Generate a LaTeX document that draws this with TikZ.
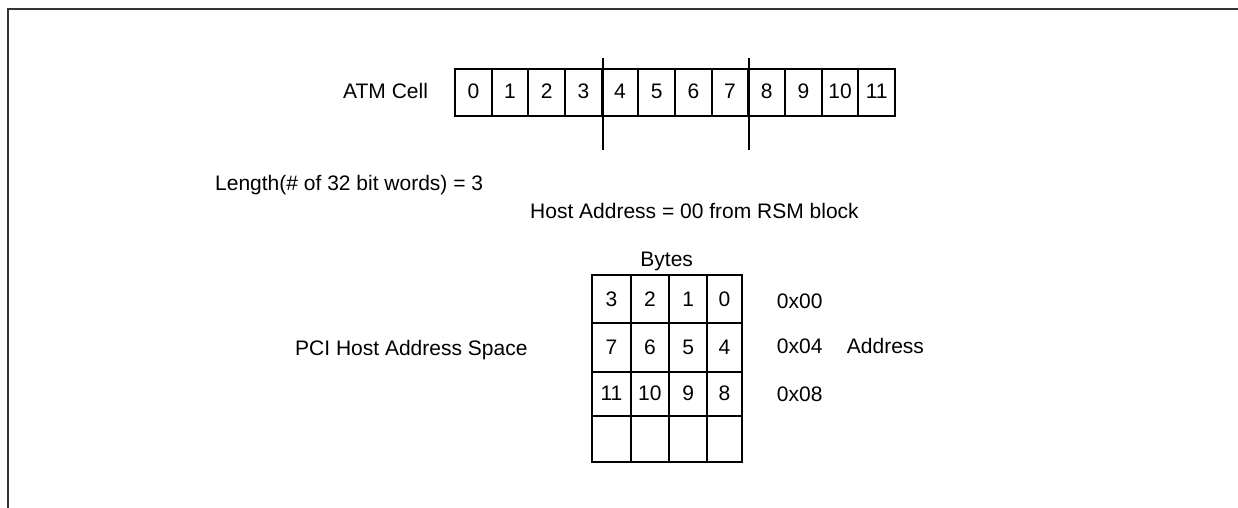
\documentclass[tikz,border=0pt]{standalone}
\usepackage{fontspec}
\setmainfont{Liberation Sans}
\usetikzlibrary{calc}
\begin{document}
\begin{tikzpicture}[x=1pt,y=-1pt,
  txt/.style={inner sep=0pt, font=\fontsize{21}{25}\selectfont},
  cell/.style={draw, line width=2pt, inner sep=0pt, font=\fontsize{21}{25}\selectfont},
  frameline/.style={draw=black!80, line width=2pt},
  divider/.style={line width=2pt}]
\useasboundingbox (0,0) rectangle (1238,508);
% partial frame
\coordinate (ftr) at (1238,9.5);
\coordinate (ftl) at (8,9.5);
\coordinate (fbl) at (8,508);
\draw[frameline] (ftr) -- (ftl) -- (fbl);
% ATM cell row
\node[txt, anchor=base west] (atm) at (343,98.3) {ATM Cell};
\foreach \i in {0,...,11}
  \node[cell, minimum width=36.67pt, minimum height=47pt] (a\i) at ({455+36.67*(\i+0.5)},92.5) {\raisebox{2.5pt}{\i}};
\draw[divider] ($(a3.north east)+(0,-10)$) -- ($(a3.south east)+(0,33)$);
\draw[divider] ($(a7.north east)+(0,-10)$) -- ($(a7.south east)+(0,33)$);
% texts
\node[txt, anchor=base west] (len) at (215,190) {Length(\# of 32 bit words) = 3};
\node[txt, anchor=base west] (host) at (530,218) {Host Address = 00 from RSM block};
\node[txt, anchor=base] (bytes) at (666.7,266.5) {Bytes};
\node[txt, anchor=base west] (pci) at (295,355) {PCI Host Address Space};
\node[txt, anchor=base west] (ad0) at (776.7,308.3) {0x00};
\node[txt, anchor=base west] (ad4) at (776.7,353.3) {0x04};
\node[txt, anchor=base west] (ad8) at (776.7,401.7) {0x08};
\node[txt, anchor=base west] (addr) at (846.7,353.3) {Address};
% host address grid
\foreach \r/\cy/\h in {1/299.15/48.3, 2/347.5/48.4, 3/393.7/44, 4/438.7/46}{
  \foreach \c/\cx/\w in {1/611.5/38.4, 2/649.85/38.3, 3/688.15/38.3, 4/724.5/34.4}{
    \pgfmathtruncatemacro{\lab}{4*(\r-1)+4-\c}
    \ifnum\r<4
      \node[cell, minimum width=\w pt, minimum height=\h pt] (g\r\c) at (\cx,\cy) {\lab};
    \else
      \node[cell, minimum width=\w pt, minimum height=\h pt] (g\r\c) at (\cx,\cy) {};
    \fi
  }
}
\end{tikzpicture}
\end{document}
